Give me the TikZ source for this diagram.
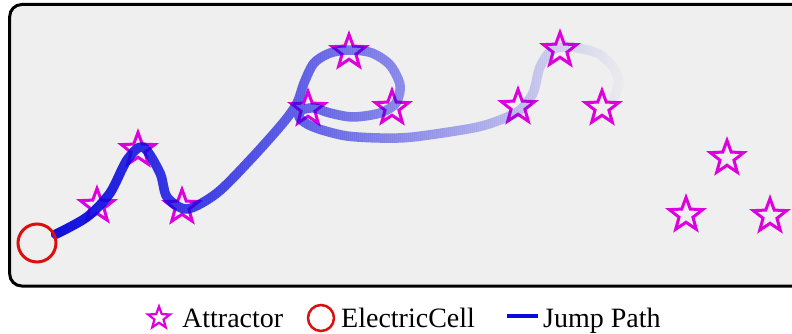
\documentclass[tikz,border=0pt]{standalone}
\usepackage{fontspec}
\setmainfont{Liberation Serif}
\usetikzlibrary{shapes.geometric}

% drawing order: panel, attractors, jump path, everything else
\pgfdeclarelayer{base}
\pgfdeclarelayer{marks}
\pgfdeclarelayer{trail}
\pgfsetlayers{base,marks,trail,main}

\definecolor{panelbg}{RGB}{239,239,239}
\definecolor{attr}{RGB}{221,0,221}
\definecolor{cellred}{RGB}{220,15,15}
\definecolor{jumpblue}{RGB}{10,10,222}

\tikzset{
  panel/.style={draw=black, line width=3pt, fill=panelbg, rounded corners=12pt},
  attractor/.style={star, star points=5, star point ratio=2.4, minimum size=35pt,
    inner sep=0pt, draw=attr, line width=3pt, line join=miter},
  ecell/.style={circle, minimum size=38pt, inner sep=0pt, draw=cellred, line width=3pt},
  jump/.style={draw=jumpblue, line width=9.5pt, line cap=round, line join=round},
  legendtext/.style={anchor=base west, inner sep=0pt, font=\fontsize{28}{30}\selectfont},
}

\begin{document}
\begin{tikzpicture}[x=1pt,y=1pt]
\useasboundingbox (0,0) rectangle (792,333);

\begin{pgfonlayer}{base}
  \draw[panel] (9.7,47) rectangle (815,328.5);
\end{pgfonlayer}

\begin{pgfonlayer}{marks}
  \node[attractor] (a1)  at (97,127)  {};
  \node[attractor] (a2)  at (138,183) {};
  \node[attractor] (a3)  at (182,126) {};
  \node[attractor] (a4)  at (308,224) {};
  \node[attractor] (a5)  at (349,281) {};
  \node[attractor] (a6)  at (392,225) {};
  \node[attractor] (a7)  at (518,226) {};
  \node[attractor] (a8)  at (560,283) {};
  \node[attractor] (a9)  at (602,225) {};
  \node[attractor] (a10) at (727,175) {};
  \node[attractor] (a11) at (686,118) {};
  \node[attractor] (a12) at (770,117) {};
\end{pgfonlayer}

\node[ecell] (cell) at (37,90) {};

% the jump path: up the left side of the loop, round over the top,
% back along the inside, a hairpin under (a4), then on to the right
\def\trail{plot[smooth, tension=0.5] coordinates {
  (cell.25) (87,116) (110,140) (127,173) (143,186) (160,160) (167,136)
  (187,124) (217,140) (250,173) (283,210) (297,230) (304,250)
  (314,270) (330,280) (350,283) (372,280) (390,268) (400,248)
  (396,230) (380,220) (353,216) (330,220) (314,225) (302,223)
  (299,216) (307,209) (322,203) (347,197) (380,195) (413,196)
  (473,205) (500,213) (520,223) (533,240) (540,266) (552,283)
  (570,286) (597,280) (613,266) (619,251) (614,235)}}

% drawn in thin vertical strips whose opacity drops from left to right
\begin{pgfonlayer}{trail}
  \foreach \x in {30,32,...,630}{
    \pgfmathsetmacro\op{max(0.005, ifthenelse(\x<300,
        0.97-0.00151*(\x+1-55), 0.6-0.00181*(\x+1-300)))}
    \begin{scope}
      \clip (\x,0) rectangle (\x+2,333);
      \draw[jump, draw opacity=\op] \trail;
    \end{scope}
  }
\end{pgfonlayer}

% legend
\node[attractor, minimum size=23pt, line width=2.2pt] (la) at (159,15) {};
\node[legendtext] (lat) at (182,6) {Attractor};
\node[circle, minimum size=26pt, inner sep=0pt, draw=cellred, line width=2.5pt] (lc) at (321,15) {};
\node[legendtext] (lct) at (341,6) {ElectricCell};
\coordinate (lj1) at (507,17);
\coordinate (lj2) at (538,17);
\draw[draw=jumpblue, line width=4pt] (lj1) -- (lj2);
\node[legendtext] (ljt) at (543,6) {Jump Path};
\end{tikzpicture}
\end{document}
